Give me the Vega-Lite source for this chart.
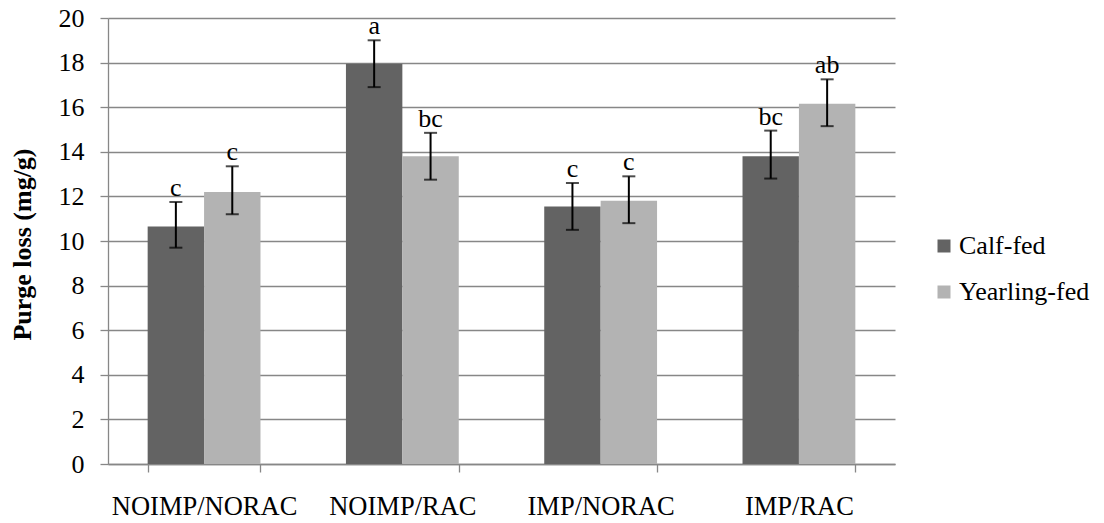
{
  "$schema": "https://vega.github.io/schema/vega-lite/v6.json",
  "width": 787,
  "height": 446,
  "autosize": {"type": "none"},
  "padding": {"left": 108, "top": 18, "right": 209, "bottom": 59},
  "background": "white",
  "config": {
    "view": {"stroke": null},
    "font": "Liberation Serif",
    "axis": {"labelFont": "Liberation Serif", "titleFont": "Liberation Serif", "labelColor": "black", "titleColor": "black"},
    "legend": {"labelFont": "Liberation Serif", "labelColor": "black"}
  },
  "data": {
    "values": [
      {"cat": "NOIMP/NORAC", "group": "Calf-fed", "value": 10.65, "lower": 9.7, "upper": 11.75, "letter": "c"},
      {"cat": "NOIMP/NORAC", "group": "Yearling-fed", "value": 12.2, "lower": 11.2, "upper": 13.35, "letter": "c"},
      {"cat": "NOIMP/RAC", "group": "Calf-fed", "value": 17.95, "lower": 16.9, "upper": 19.0, "letter": "a"},
      {"cat": "NOIMP/RAC", "group": "Yearling-fed", "value": 13.8, "lower": 12.75, "upper": 14.85, "letter": "bc"},
      {"cat": "IMP/NORAC", "group": "Calf-fed", "value": 11.55, "lower": 10.5, "upper": 12.6, "letter": "c"},
      {"cat": "IMP/NORAC", "group": "Yearling-fed", "value": 11.8, "lower": 10.8, "upper": 12.9, "letter": "c"},
      {"cat": "IMP/RAC", "group": "Calf-fed", "value": 13.8, "lower": 12.8, "upper": 14.95, "letter": "bc"},
      {"cat": "IMP/RAC", "group": "Yearling-fed", "value": 16.15, "lower": 15.15, "upper": 17.25, "letter": "ab"}
    ]
  },
  "encoding": {
    "x": {
      "field": "cat",
      "type": "nominal",
      "sort": ["NOIMP/NORAC", "NOIMP/RAC", "IMP/NORAC", "IMP/RAC"],
      "scale": {"paddingInner": 0.431},
      "axis": {
        "title": null,
        "labelAngle": 0,
        "labelFontSize": 26.5,
        "labelLimit": 400,
        "labelBaseline": "alphabetic",
        "labelPadding": 42,
        "tickBand": "extent",
        "tickSize": 8,
        "tickColor": "#878787",
        "tickWidth": 1.3,
        "domainColor": "#878787",
        "domainWidth": 1.3,
        "grid": false
      }
    },
    "xOffset": {"field": "group", "type": "nominal", "sort": ["Calf-fed", "Yearling-fed"]}
  },
  "layer": [
    {
      "mark": {"type": "bar"},
      "encoding": {
        "y": {
          "field": "value",
          "type": "quantitative",
          "scale": {"domain": [0, 20], "nice": false},
          "axis": {
            "values": [0, 2, 4, 6, 8, 10, 12, 14, 16, 18, 20],
            "title": "Purge loss (mg/g)",
            "titleFontSize": 26,
            "titleFontWeight": "bold",
            "titleBaseline": "alphabetic",
            "titleX": -78,
            "titleY": 226,
            "labelFontSize": 26,
            "labelPadding": 16,
            "tickSize": 8,
            "tickColor": "#878787",
            "tickWidth": 1.3,
            "domainColor": "#878787",
            "domainWidth": 1.3,
            "grid": true,
            "gridColor": "#878787",
            "gridWidth": 1.3
          }
        },
        "color": {
          "field": "group",
          "type": "nominal",
          "scale": {"domain": ["Calf-fed", "Yearling-fed"], "range": ["#636363", "#b3b3b3"]},
          "legend": {
            "title": null,
            "orient": "none",
            "legendX": 823,
            "legendY": 215,
            "padding": 0,
            "symbolType": "square",
            "symbolSize": 169,
            "symbolStrokeWidth": 0,
            "labelFontSize": 26,
            "labelLimit": 400,
            "labelOffset": 2,
            "rowPadding": 20
          }
        }
      }
    },
    {
      "mark": {"type": "rule", "color": "black", "strokeWidth": 2},
      "encoding": {
        "y": {"field": "lower", "type": "quantitative"},
        "y2": {"field": "upper"}
      }
    },
    {
      "mark": {"type": "tick", "color": "black", "thickness": 2, "size": 13},
      "encoding": {"y": {"field": "upper", "type": "quantitative"}}
    },
    {
      "mark": {"type": "tick", "color": "black", "thickness": 2, "size": 13},
      "encoding": {"y": {"field": "lower", "type": "quantitative"}}
    },
    {
      "mark": {"type": "text", "fontSize": 26, "baseline": "alphabetic", "dy": -6, "color": "black"},
      "encoding": {
        "y": {"field": "upper", "type": "quantitative"},
        "text": {"field": "letter"}
      }
    }
  ]
}
